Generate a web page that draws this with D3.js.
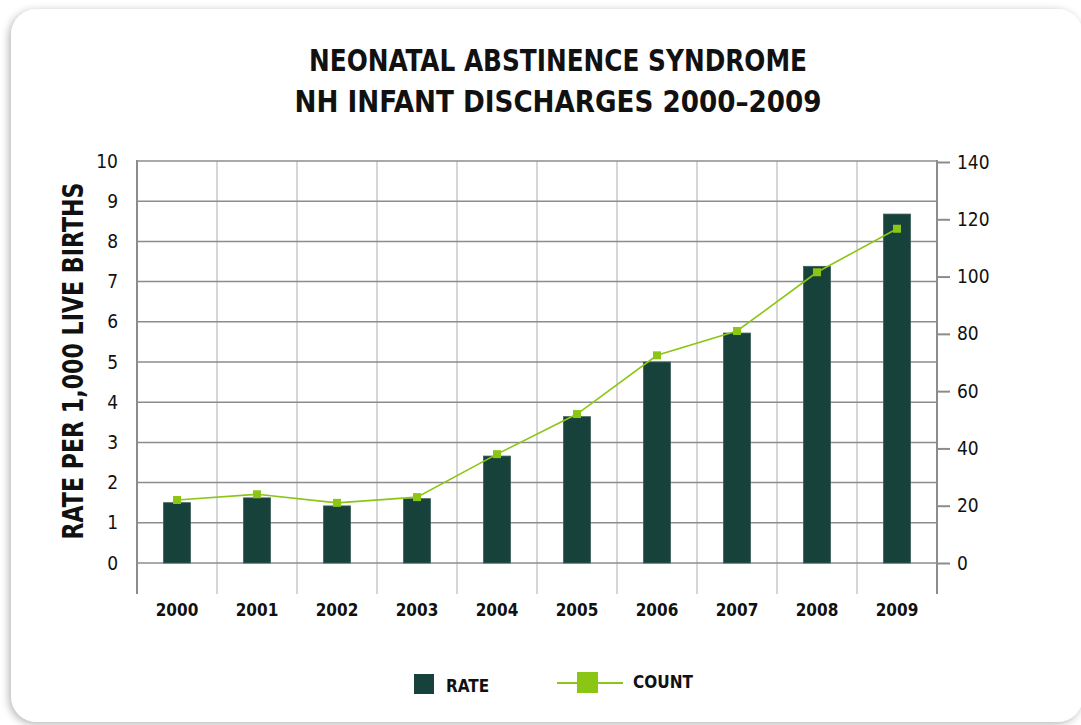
<!DOCTYPE html>
<html>
<head>
<meta charset="utf-8">
<script src="https://cdn.jsdelivr.net/npm/d3@7"></script>
<style>
  html, body { margin: 0; padding: 0; background: #ffffff; }
  svg { display: block; }
</style>
</head>
<body>
<div id="chart"></div>
<script>
var years = ["2000", "2001", "2002", "2003", "2004", "2005", "2006", "2007", "2008", "2009"];
var rate = [1.5, 1.62, 1.42, 1.6, 2.66, 3.64, 5.0, 5.72, 7.38, 8.68];
var count = [22, 24, 21, 23, 38, 52, 72.5, 81, 101.5, 116.7];
var leftTicks = [0, 1, 2, 3, 4, 5, 6, 7, 8, 9, 10];
var rightTicks = [0, 20, 40, 60, 80, 100, 120, 140];
var titleLines = ["NEONATAL ABSTINENCE SYNDROME", "NH INFANT DISCHARGES 2000\u20132009"];

(function() {
	"use strict";

	var w = 1081;
	var h = 725;
	var barColor = "#17413b";
	var lineColor = "#8cc614";
	var boldFont = "'DejaVu Sans Condensed', 'DejaVu Sans', sans-serif";
	var regFont = "'DejaVu Sans Condensed', 'DejaVu Sans', sans-serif";

	var svg = d3.select("#chart").append("svg")
		.attr("width", w)
		.attr("height", h);

	// card with soft shadow
	var defs = svg.append("defs");
	var filt = defs.append("filter").attr("id", "shadow")
		.attr("x", "-5%").attr("y", "-5%").attr("width", "110%").attr("height", "110%");
	filt.append("feGaussianBlur").attr("in", "SourceAlpha").attr("stdDeviation", 4);
	filt.append("feOffset").attr("dx", -2).attr("dy", 2).attr("result", "blur");
	filt.append("feComponentTransfer").append("feFuncA").attr("type", "linear").attr("slope", 0.3);
	var merge = filt.append("feMerge");
	merge.append("feMergeNode");
	merge.append("feMergeNode").attr("in", "SourceGraphic");

	svg.append("rect")
		.attr("x", 11).attr("y", 9)
		.attr("width", 1072).attr("height", 713)
		.attr("rx", 26).attr("ry", 26)
		.attr("fill", "#ffffff")
		.attr("filter", "url(#shadow)");

	var pl = 137, pr = 937, pt = 161, pb = 563, below = 594;

	var x = d3.scaleBand().domain(years).range([pl, pr]).paddingInner(0).paddingOuter(0);
	var yL = d3.scaleLinear().domain([0, 10]).range([pb, pt]);
	var yR = d3.scaleLinear().domain([0, 140]).range([pb, pt + 1]);

	// title (narrow face, so squeeze to the measured widths)
	var titleW = [498, 527];
	svg.append("g").selectAll("text")
		.data(titleLines)
		.enter()
		.append("text")
		.text(function(d) { return d; })
		.attr("x", 558)
		.attr("y", function(d, i) { return 71 + i * 41; })
		.attr("text-anchor", "middle")
		.attr("textLength", function(d, i) { return titleW[i]; })
		.attr("lengthAdjust", "spacingAndGlyphs")
		.attr("font-family", boldFont)
		.attr("font-weight", "bold")
		.attr("font-size", 31)
		.attr("fill", "#111");

	// vertical gridlines
	var vLines = years.map(function(d) { return x(d); });
	svg.append("g").selectAll("line")
		.data(vLines.slice(1))
		.enter()
		.append("line")
		.attr("x1", function(d) { return d; })
		.attr("x2", function(d) { return d; })
		.attr("y1", pt)
		.attr("y2", below)
		.attr("stroke", "#d6d6d6")
		.attr("stroke-width", 2);

	// horizontal gridlines
	svg.append("g").selectAll("line")
		.data(leftTicks)
		.enter()
		.append("line")
		.attr("x1", pl)
		.attr("x2", pr)
		.attr("y1", function(d) { return yL(d); })
		.attr("y2", function(d) { return yL(d); })
		.attr("stroke", "#8c8c8c")
		.attr("stroke-width", 1.5);

	// left axis line
	svg.append("line")
		.attr("x1", pl).attr("x2", pl)
		.attr("y1", pt - 1).attr("y2", below)
		.attr("stroke", "#8c8c8c").attr("stroke-width", 2);

	// right axis
	var axR = svg.append("g")
		.attr("transform", "translate(" + pr + ",0)")
		.call(d3.axisRight(yR).tickValues(rightTicks).tickSize(13).tickPadding(7));
	axR.select(".domain").attr("stroke", "#8c8c8c").attr("stroke-width", 2)
		.attr("d", "M0," + (pt - 1) + "V" + below);
	axR.selectAll(".tick line").attr("stroke", "#8c8c8c").attr("stroke-width", 2);
	axR.selectAll(".tick text")
		.attr("font-family", regFont)
		.attr("font-size", 19)
		.attr("fill", "#111");

	// left tick labels
	var axL = svg.append("g")
		.attr("transform", "translate(" + pl + ",0)")
		.call(d3.axisLeft(yL).tickValues(leftTicks).tickSize(0).tickPadding(19));
	axL.select(".domain").remove();
	axL.selectAll(".tick text")
		.attr("font-family", regFont)
		.attr("font-size", 19)
		.attr("fill", "#111");

	// x labels
	var axX = svg.append("g")
		.attr("transform", "translate(0," + 598 + ")")
		.call(d3.axisBottom(x).tickSize(0).tickPadding(6));
	axX.select(".domain").remove();
	axX.selectAll(".tick text")
		.attr("font-family", boldFont)
		.attr("font-weight", "bold")
		.attr("font-size", 17)
		.attr("fill", "#111");

	// bars
	var barW = 27;
	svg.append("g").selectAll("rect")
		.data(rate)
		.enter()
		.append("rect")
		.attr("x", function(d, i) { return x(years[i]) + x.bandwidth() / 2 - barW / 2; })
		.attr("y", function(d) { return yL(d); })
		.attr("width", barW)
		.attr("height", function(d) { return pb - yL(d); })
		.attr("fill", barColor)
		.attr("stroke", "#3d5f59")
		.attr("stroke-width", 0.8);

	// count line
	var line = d3.line()
		.x(function(d, i) { return x(years[i]) + x.bandwidth() / 2; })
		.y(function(d) { return yR(d); });
	svg.append("path")
		.datum(count)
		.attr("d", line)
		.attr("fill", "none")
		.attr("stroke", lineColor)
		.attr("stroke-width", 1.6);

	var mk = 8;
	svg.append("g").selectAll("rect")
		.data(count)
		.enter()
		.append("rect")
		.attr("x", function(d, i) { return x(years[i]) + x.bandwidth() / 2 - mk / 2; })
		.attr("y", function(d) { return yR(d) - mk / 2; })
		.attr("width", mk)
		.attr("height", mk)
		.attr("fill", lineColor);

	// y axis title
	svg.append("text")
		.text("RATE PER 1,000 LIVE BIRTHS")
		.attr("transform", "translate(83,361) rotate(-90)")
		.attr("text-anchor", "middle")
		.attr("textLength", 357)
		.attr("lengthAdjust", "spacingAndGlyphs")
		.attr("font-family", boldFont)
		.attr("font-weight", "bold")
		.attr("font-size", 28)
		.attr("fill", "#111");

	// legend
	var lg = svg.append("g");
	lg.append("rect")
		.attr("x", 414).attr("y", 674).attr("width", 20).attr("height", 20)
		.attr("fill", barColor);
	lg.append("text")
		.text("RATE")
		.attr("x", 446).attr("y", 692)
		.attr("font-family", boldFont).attr("font-weight", "bold")
		.attr("font-size", 17).attr("fill", "#111");
	lg.append("line")
		.attr("x1", 557).attr("x2", 623).attr("y1", 683).attr("y2", 683)
		.attr("stroke", lineColor).attr("stroke-width", 2);
	lg.append("rect")
		.attr("x", 577).attr("y", 672).attr("width", 21).attr("height", 21)
		.attr("fill", lineColor);
	lg.append("text")
		.text("COUNT")
		.attr("x", 633).attr("y", 688)
		.attr("font-family", boldFont).attr("font-weight", "bold")
		.attr("font-size", 17).attr("fill", "#111");
}());
</script>
</body>
</html>
